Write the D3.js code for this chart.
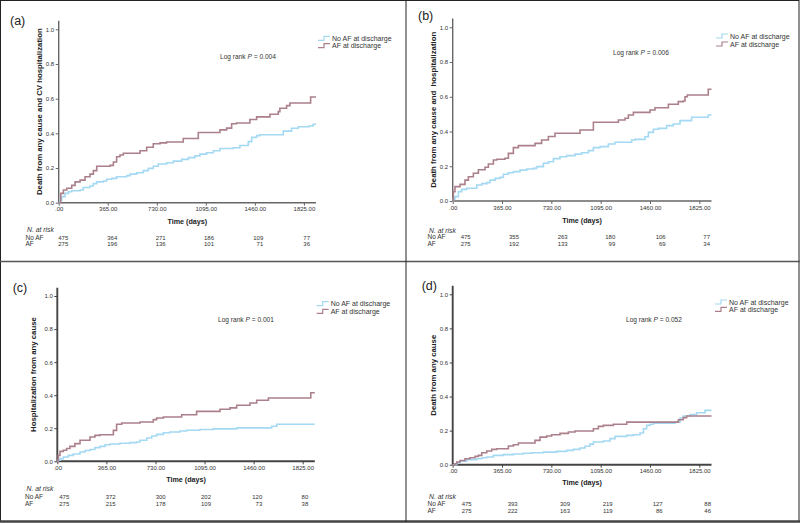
<!DOCTYPE html>
<html><head><meta charset="utf-8">
<script src="https://cdn.jsdelivr.net/npm/d3@7"></script>
<style>body{margin:0;background:#fff}svg{display:block;font-family:"Liberation Sans",Arial,sans-serif}</style>
</head><body><svg id="c" width="800" height="524"></svg>
<script>
// ---------- data ----------
const xTicks = [0, 365, 730, 1095, 1460, 1825];
const xTickLabels = [".00", "365.00", "730.00", "1095.00", "1460.00", "1825.00"];
const yTicks = [0, 0.2, 0.4, 0.6, 0.8, 1.0];
const yTickLabels = ["0.0", "0.2", "0.4", "0.6", "0.8", "1.0"];
const groups = ["No AF at discharge", "AF at discharge"];
const riskRowLabels = ["No AF", "AF"];
const panelLabels = ["(a)", "(b)", "(c)", "(d)"];
const yTitles = ["Death from any cause and CV hospitalization", "Death from any cause and  hospitalization",
  "Hospitalization from any cause", "Death from any cause"];
const logRankP = ["0.004", "0.006", "0.001", "0.052"];
const followUpEnd = 1915;

// panel (a)
const aNoAFDays = [0,10,22,47,72,97,159,183,233,258,283,332,357,394,431,506,531,580,630,667,704,741,803,853,915,965,1014,1051,1101,1151,1200,1299,1349,1411,1436,1473,1498,1671,1733,1783,1864,1894];
const aNoAFRisk = [0,.015,.035,.054,.063,.069,.073,.088,.096,.11,.12,.125,.135,.14,.15,.156,.165,.173,.185,.198,.21,.223,.23,.24,.25,.26,.27,.28,.288,.30,.313,.317,.33,.352,.377,.387,.392,.413,.429,.438,.442,.452];
const aAFDays = [0,15,35,60,97,122,159,196,233,258,283,382,407,431,456,481,605,655,704,754,803,927,1039,1200,1250,1287,1324,1423,1473,1572,1634,1646,1696,1721,1875];
const aAFRisk = [0,.054,.073,.083,.10,.12,.13,.15,.165,.185,.21,.215,.235,.265,.275,.285,.30,.32,.34,.345,.35,.37,.405,.42,.43,.455,.46,.48,.495,.51,.525,.545,.56,.575,.61];
// panel (b)
const bNoAFDays = [0,5,17,42,67,104,178,215,252,276,313,350,375,412,449,498,547,597,621,671,708,745,794,843,905,954,1004,1041,1090,1152,1201,1324,1349,1423,1448,1485,1522,1583,1632,1682,1768,1891];
const bNoAFRisk = [0,.012,.025,.054,.067,.073,.092,.10,.106,.12,.13,.136,.154,.163,.169,.178,.184,.188,.198,.217,.226,.244,.255,.261,.27,.278,.29,.307,.313,.328,.338,.351,.355,.37,.395,.413,.418,.434,.443,.463,.482,.495];
const bAFDays = [0,5,17,54,91,116,153,190,239,264,301,326,387,412,449,486,609,658,708,757,942,1041,1226,1275,1300,1337,1460,1497,1596,1669,1706,1719,1736,1891];
const bAFRisk = [0,.054,.083,.096,.12,.14,.16,.18,.194,.213,.236,.24,.246,.274,.307,.319,.332,.351,.371,.39,.409,.453,.466,.476,.495,.51,.524,.537,.557,.572,.576,.60,.61,.643];
// panel (c)
const cNoAFDays = [0,7,20,45,82,119,169,206,243,280,317,355,392,466,541,590,615,665,702,739,789,838,912,962,1061,1160,1334,1594,1632];
const cNoAFRisk = [0,.006,.016,.026,.036,.044,.056,.065,.071,.083,.09,.10,.105,.109,.113,.117,.127,.141,.153,.163,.173,.177,.183,.188,.192,.196,.202,.212,.224];
const cAFDays = [0,7,20,45,69,94,131,169,243,280,317,417,441,479,615,714,739,789,925,1036,1210,1284,1334,1433,1483,1570,1885];
const cAFRisk = [0,.036,.06,.067,.077,.09,.107,.127,.147,.157,.161,.187,.224,.232,.238,.252,.262,.268,.282,.302,.315,.323,.339,.353,.369,.383,.415];
// panel (d)
const dNoAFDays = [0,30,54,104,178,215,252,301,375,449,523,584,671,769,843,893,942,979,1016,1041,1115,1164,1201,1287,1337,1386,1411,1435,1460,1485,1645,1682,1706,1756,1805,1867];
const dNoAFRisk = [0,.01,.02,.03,.035,.041,.045,.055,.059,.063,.067,.07,.074,.078,.084,.09,.098,.108,.121,.133,.139,.153,.166,.172,.176,.186,.211,.231,.237,.243,.25,.274,.286,.294,.305,.319];
const dAFDays = [0,17,30,54,91,128,165,190,215,252,289,326,412,449,486,609,646,695,732,794,856,905,1041,1078,1115,1189,1288,1670,1706,1731];
const dAFRisk = [0,.006,.016,.025,.035,.041,.049,.055,.07,.08,.09,.094,.11,.117,.127,.143,.162,.168,.176,.184,.192,.198,.211,.225,.231,.237,.25,.264,.276,.286];

// numbers at risk
const aAtRiskNoAF = [475,364,271,186,109,77], aAtRiskAF = [275,196,136,101,71,36];
const bAtRiskNoAF = [475,355,263,180,106,77], bAtRiskAF = [275,192,133,99,69,34];
const cAtRiskNoAF = [475,372,300,202,120,80], cAtRiskAF = [275,215,178,109,73,38];
const dAtRiskNoAF = [475,393,309,219,127,88], dAtRiskAF = [275,222,163,119,86,46];

// ---------- layout ----------
const colors = ["#a3d9f2", "#ab808b"];
const layouts = [
  {x0:58.7, xEnd:316, yBase:202.7, yOne:29.3, titleX:39, lab:[10,25], leg:[318,40.8,48.2], lr:[220,59.2], timeY:223.5, axW:1.4, axC:"#666",
   tab:{lx:25.5, ny:232, ry:[239.5,246], cols:[68.3,117.3,165.7,214,263.3,310]}},
  {x0:452.7, xEnd:711.5, yBase:201, yOne:27.3, titleX:433, lab:[418,19.5], leg:[716,38.5,46.5], lr:[613,55.2], timeY:222.5, axW:1.4, axC:"#666",
   tab:{lx:427.5, ny:232.5, ry:[239.2,245.7], cols:[470.7,519,567.7,615.3,665.7,710]}},
  {x0:57.3, xEnd:314.8, yBase:461.3, yOne:296, titleX:33, lab:[12.7,292], leg:[316.7,306.2,313.8], lr:[218,321.8], timeY:481.8, axW:1.9, axC:"#444",
   tab:{lx:25, ny:491.2, ry:[499.2,506.2], cols:[69.3,115.7,165.7,211,262.3,308.3]}},
  {x0:452.7, xEnd:711.5, yBase:464.7, yOne:294.3, titleX:433, lab:[421.7,290], leg:[715,304.5,311.8], lr:[626,321.8], timeY:485.2, axW:1.9, axC:"#444",
   tab:{lx:427.5, ny:498.8, ry:[505.9,513.2], cols:[471.7,517.7,570,612.7,662.7,711]}}
];
const series = [
  [[aNoAFDays,aNoAFRisk],[aAFDays,aAFRisk]],
  [[bNoAFDays,bNoAFRisk],[bAFDays,bAFRisk]],
  [[cNoAFDays,cNoAFRisk],[cAFDays,cAFRisk]],
  [[dNoAFDays,dNoAFRisk],[dAFDays,dAFRisk]]
];
const atRisk = [[aAtRiskNoAF,aAtRiskAF],[bAtRiskNoAF,bAtRiskAF],[cAtRiskNoAF,cAtRiskAF],[dAtRiskNoAF,dAtRiskAF]];

const svg = d3.select("#c");
svg.append("rect").attr("width",800).attr("height",524).attr("fill","#fff");

// frame
svg.append("rect").attr("x",0.5).attr("y",0.5).attr("width",798.5).attr("height",521).attr("fill","none").attr("stroke","#222").attr("stroke-width",1);
svg.append("line").attr("x1",0).attr("x2",800).attr("y1",521.5).attr("y2",521.5).attr("stroke","#444").attr("stroke-width",2.5);
svg.append("line").attr("x1",0).attr("x2",800).attr("y1",261.5).attr("y2",261.5).attr("stroke","#555").attr("stroke-width",1.3);
svg.append("line").attr("x1",406).attr("x2",406).attr("y1",0).attr("y2",522).attr("stroke","#222").attr("stroke-width",1);

layouts.forEach((L, i) => {
  const g = svg.append("g");
  const x = d3.scaleLinear().domain([0, followUpEnd]).range([L.x0, L.xEnd]);
  const y = d3.scaleLinear().domain([0, 1]).range([L.yBase, L.yOne]);
  const yTop = y(1.05);

  const ya = g.append("g").attr("transform", `translate(${L.x0},0)`)
    .call(d3.axisLeft(y).tickValues(yTicks).tickFormat((d, k) => yTickLabels[k]).tickSize(3).tickPadding(1.5));
  ya.select(".domain").attr("d", `M0,${yTop}V${L.yBase}`);
  const xa = g.append("g").attr("transform", `translate(0,${L.yBase})`)
    .call(d3.axisBottom(x).tickValues(xTicks).tickFormat((d, k) => xTickLabels[k]).tickSize(3).tickPadding(1.5));
  xa.select(".domain").attr("d", `M${L.x0},0H${L.xEnd}`);
  [ya, xa].forEach(a => {
    a.select(".domain").attr("stroke", L.axC).attr("stroke-width", L.axW);
    a.selectAll(".tick line").attr("stroke", L.axC).attr("stroke-width", 1);
    a.selectAll(".tick text").attr("fill", "#333").attr("font-size", 6).attr("font-family", "Liberation Sans, Arial, sans-serif");
  });

  const line = d3.line().x(d => x(d[0])).y(d => y(d[1])).curve(d3.curveStepAfter);
  series[i].forEach((s, k) => {
    const pts = s[0].map((t, j) => [t, s[1][j]]);
    pts.push([followUpEnd, s[1][s[1].length - 1]]);
    g.append("path").datum(pts).attr("d", line).attr("fill", "none")
      .attr("stroke", colors[k]).attr("stroke-width", 1.6);
  });

  g.append("text").attr("transform", `translate(${L.titleX},${(yTop + L.yBase) / 2}) rotate(-90)`)
    .attr("text-anchor", "middle").attr("dy", "0.35em").attr("font-size", 7.8).attr("font-weight", "bold")
    .attr("fill", "#222").style("white-space", "pre").text(yTitles[i]);
  g.append("text").attr("x", (L.x0 + L.xEnd) / 2).attr("y", L.timeY).attr("text-anchor", "middle")
    .attr("font-size", 7.2).attr("font-weight", "bold").attr("fill", "#222").text("Time (days)");
  g.append("text").attr("x", L.lab[0]).attr("y", L.lab[1]).attr("font-size", 12.5).attr("fill", "#222").text(panelLabels[i]);

  groups.forEach((name, k) => {
    const ly = L.leg[1 + k] - 2.5;
    g.append("path").attr("d", `M${L.leg[0]},${ly + 2}H${L.leg[0] + 6}V${ly - 2}H${L.leg[0] + 12}`)
      .attr("fill", "none").attr("stroke", colors[k]).attr("stroke-width", 1.2);
    g.append("text").attr("x", L.leg[0] + 14).attr("y", L.leg[1 + k]).attr("font-size", 7).attr("fill", "#333").text(name);
  });

  const lr = g.append("text").attr("x", L.lr[0]).attr("y", L.lr[1]).attr("font-size", 6.6).attr("fill", "#333");
  lr.append("tspan").text("Log rank ");
  lr.append("tspan").attr("font-style", "italic").text("P");
  lr.append("tspan").text(" = " + logRankP[i]);

  g.append("text").attr("x", L.tab.lx + 1.5).attr("y", L.tab.ny).attr("font-size", 6.8).attr("font-style", "italic")
    .attr("fill", "#333").text("N. at risk");
  riskRowLabels.forEach((rl, k) => {
    g.append("text").attr("x", L.tab.lx).attr("y", L.tab.ry[k]).attr("font-size", 6.5).attr("fill", "#333").text(rl);
    atRisk[i][k].forEach((v, c) => {
      g.append("text").attr("x", L.tab.cols[c]).attr("y", L.tab.ry[k]).attr("text-anchor", "end")
        .attr("font-size", 6).attr("fill", "#333").text(v);
    });
  });
});
</script></body></html>
